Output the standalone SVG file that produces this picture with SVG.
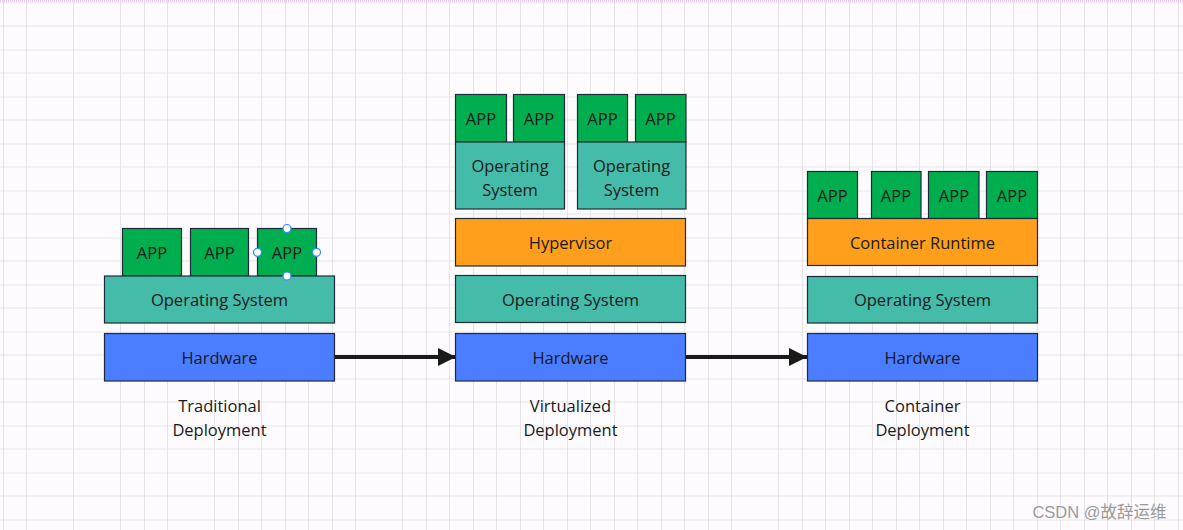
<svg xmlns="http://www.w3.org/2000/svg" width="1183" height="530" viewBox="0 0 1183 530">
<defs>
<pattern id="grid" x="3" y="2.5" width="47" height="47" patternUnits="userSpaceOnUse">
<path d="M23.5 0V47M0 23.5H47" stroke="#e6e4e8" stroke-width="1" fill="none"/>
<path d="M0 0V47M0 0H47" stroke="#d6d4d8" stroke-width="1.2" fill="none"/>
</pattern>
<marker id="arr" viewBox="0 0 10 10" refX="10" refY="5" markerWidth="4.6" markerHeight="4.6" markerUnits="strokeWidth" orient="auto">
<path d="M0 0L10 5L0 10z" fill="#1a1a1a"/>
</marker>
<style>
.b{stroke:#1e2a3a;stroke-width:1.2}
.app{fill:#00ae4f}
.os{fill:#45bbaa}
.hw{fill:#4a7dff}
.or{fill:#ff9f1c}
text{font-family:"Open Sans","Noto Sans","DejaVu Sans",sans-serif;font-size:16.5px;fill:#1a1a1a;text-anchor:middle}
.cap{font-size:16.5px}
.h{fill:#fff;stroke:#2a8cff;stroke-width:1.2}
</style>
</defs>
<rect width="1183" height="530" fill="#fdfbfd"/>
<rect width="1183" height="530" fill="url(#grid)"/>
<line x1="0" y1="1" x2="1183" y2="1" stroke="#f3c6f0" stroke-width="2" stroke-dasharray="1 1"/>

<g id="connectors">
<line x1="334" y1="357" x2="456" y2="357" stroke="#1a1a1a" stroke-width="4" marker-end="url(#arr)"/>
<line x1="686" y1="357" x2="807" y2="357" stroke="#1a1a1a" stroke-width="4" marker-end="url(#arr)"/>
</g>

<g id="traditional">
<g id="t-app1"><rect class="b app" x="122.5" y="228.5" width="59" height="47.5"/><text x="152" y="259">APP</text></g>
<g id="t-app2"><rect class="b app" x="190.5" y="228.5" width="58" height="47.5"/><text x="219.5" y="259">APP</text></g>
<g id="t-app3"><rect class="b app" x="257.5" y="228.5" width="59" height="47.5"/><text x="287" y="259">APP</text></g>
<g id="t-os"><rect class="b os" x="104.5" y="276" width="230" height="47"/><text x="219.5" y="306">Operating System</text></g>
<g id="t-hw"><rect class="b hw" x="104.5" y="333.5" width="230" height="47.5"/><text x="219.5" y="364">Hardware</text></g>
<g id="t-handles">
<circle class="h" cx="287" cy="228.5" r="4"/><circle class="h" cx="257.5" cy="252.3" r="4"/>
<circle class="h" cx="316.5" cy="252.3" r="4"/><circle class="h" cx="287" cy="276" r="4"/>
</g>
<g id="t-cap"><text class="cap" x="219.5" y="412">Traditional</text><text class="cap" x="219.5" y="436">Deployment</text></g>
</g>

<g id="virtualized">
<g id="v-app1"><rect class="b app" x="455.5" y="94.5" width="51" height="47.5"/><text x="481" y="125">APP</text></g>
<g id="v-app2"><rect class="b app" x="513.5" y="94.5" width="51" height="47.5"/><text x="539" y="125">APP</text></g>
<g id="v-app3"><rect class="b app" x="577.5" y="94.5" width="50" height="47.5"/><text x="602.5" y="125">APP</text></g>
<g id="v-app4"><rect class="b app" x="635.5" y="94.5" width="50.5" height="47.5"/><text x="660.5" y="125">APP</text></g>
<g id="v-os1"><rect class="b os" x="455.5" y="142" width="109" height="67"/><text x="510" y="172">Operating</text><text x="510" y="196">System</text></g>
<g id="v-os2"><rect class="b os" x="577.5" y="142" width="108.5" height="67"/><text x="631.5" y="172">Operating</text><text x="631.5" y="196">System</text></g>
<g id="v-hyp"><rect class="b or" x="455.5" y="218.5" width="230" height="47.5"/><text x="570.5" y="249">Hypervisor</text></g>
<g id="v-os"><rect class="b os" x="455.5" y="275.5" width="230" height="47"/><text x="570.5" y="305.5">Operating System</text></g>
<g id="v-hw"><rect class="b hw" x="455.5" y="333.5" width="230" height="47.5"/><text x="570.5" y="364">Hardware</text></g>
<g id="v-cap"><text class="cap" x="570.5" y="412">Virtualized</text><text class="cap" x="570.5" y="436">Deployment</text></g>
</g>

<g id="container">
<g id="c-app1"><rect class="b app" x="807.5" y="171.5" width="50" height="47"/><text x="832.5" y="201.5">APP</text></g>
<g id="c-app2"><rect class="b app" x="871.5" y="171.5" width="49.5" height="47"/><text x="896" y="201.5">APP</text></g>
<g id="c-app3"><rect class="b app" x="928.5" y="171.5" width="50.5" height="47"/><text x="954" y="201.5">APP</text></g>
<g id="c-app4"><rect class="b app" x="986.5" y="171.5" width="51" height="47"/><text x="1012" y="201.5">APP</text></g>
<g id="c-rt"><rect class="b or" x="807.5" y="218.5" width="230" height="47"/><text x="922.5" y="248.5">Container Runtime</text></g>
<g id="c-os"><rect class="b os" x="807.5" y="276.5" width="230" height="46.5"/><text x="922.5" y="306">Operating System</text></g>
<g id="c-hw"><rect class="b hw" x="807.5" y="333.5" width="230" height="47.5"/><text x="922.5" y="364">Hardware</text></g>
<g id="c-cap"><text class="cap" x="922.5" y="412">Container</text><text class="cap" x="922.5" y="436">Deployment</text></g>
</g>

<text x="1099.5" y="518" style="font-family:'Liberation Sans','Noto Sans CJK SC',sans-serif;font-size:16.5px;fill:#9a9a9a">CSDN @故辞运维</text>
</svg>
